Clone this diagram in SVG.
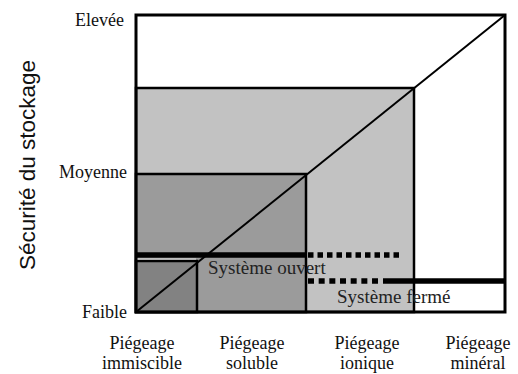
<svg xmlns="http://www.w3.org/2000/svg" width="518" height="374" viewBox="0 0 518 374">
<style>
.lbl{font-family:"Liberation Serif","Times New Roman",serif;font-size:18px;fill:#111}
.sys{font-family:"Liberation Serif","Times New Roman",serif;font-size:19px;fill:#222}
.ax{font-family:"Liberation Sans",Arial,sans-serif;font-size:22.5px;fill:#111}
.reg{stroke:#000;stroke-width:2.5}
.thick{stroke:#000;stroke-width:5.5;fill:none}
</style>
<rect width="518" height="374" fill="#fff"/>
<g id="zone-mineral"><rect x="136" y="15" width="369" height="297" fill="#fff"/></g>
<g id="zone-ionique"><rect class="reg" x="136" y="88" width="278" height="224" fill="#c2c2c2"/></g>
<g id="zone-soluble"><rect class="reg" x="136" y="174" width="170" height="138" fill="#9b9b9b"/></g>
<g id="zone-immiscible">
<rect class="reg" x="136" y="261" width="61" height="51" fill="#828282"/>
<rect x="137" y="257.8" width="59" height="2" fill="#bdbdbd"/>
</g>
<g id="connectors">
<line x1="136" y1="312" x2="505" y2="15" stroke="#000" stroke-width="2"/>
<line class="thick" x1="136" y1="255" x2="306" y2="255"/>
<line class="thick" x1="308" y1="255" x2="399" y2="255" stroke-dasharray="5.5 4"/>
<line class="thick" x1="308" y1="281" x2="378" y2="281" stroke-dasharray="6 4.67"/>
<line class="thick" x1="383" y1="281" x2="505" y2="281"/>
</g>
<g id="frame"><rect x="136" y="15" width="369" height="297" fill="none" stroke="#000" stroke-width="3"/></g>
<g id="labels">
<text class="sys" x="208" y="274">Système ouvert</text>
<text class="sys" x="337" y="303">Système fermé</text>
<text class="lbl" x="124" y="26" text-anchor="end">Elevée</text>
<text class="lbl" x="127" y="178" text-anchor="end">Moyenne</text>
<text class="lbl" x="127" y="318" text-anchor="end">Faible</text>
<text class="lbl" text-anchor="middle"><tspan x="142" y="349">Piégeage</tspan><tspan x="142" y="369">immiscible</tspan></text>
<text class="lbl" text-anchor="middle"><tspan x="252" y="349">Piégeage</tspan><tspan x="252" y="369">soluble</tspan></text>
<text class="lbl" text-anchor="middle"><tspan x="367" y="349">Piégeage</tspan><tspan x="367" y="369">ionique</tspan></text>
<text class="lbl" text-anchor="middle"><tspan x="478" y="349">Piégeage</tspan><tspan x="478" y="369">minéral</tspan></text>
<text class="ax" transform="translate(35 165) rotate(-90)" text-anchor="middle">Sécurité du stockage</text>
</g>
</svg>
